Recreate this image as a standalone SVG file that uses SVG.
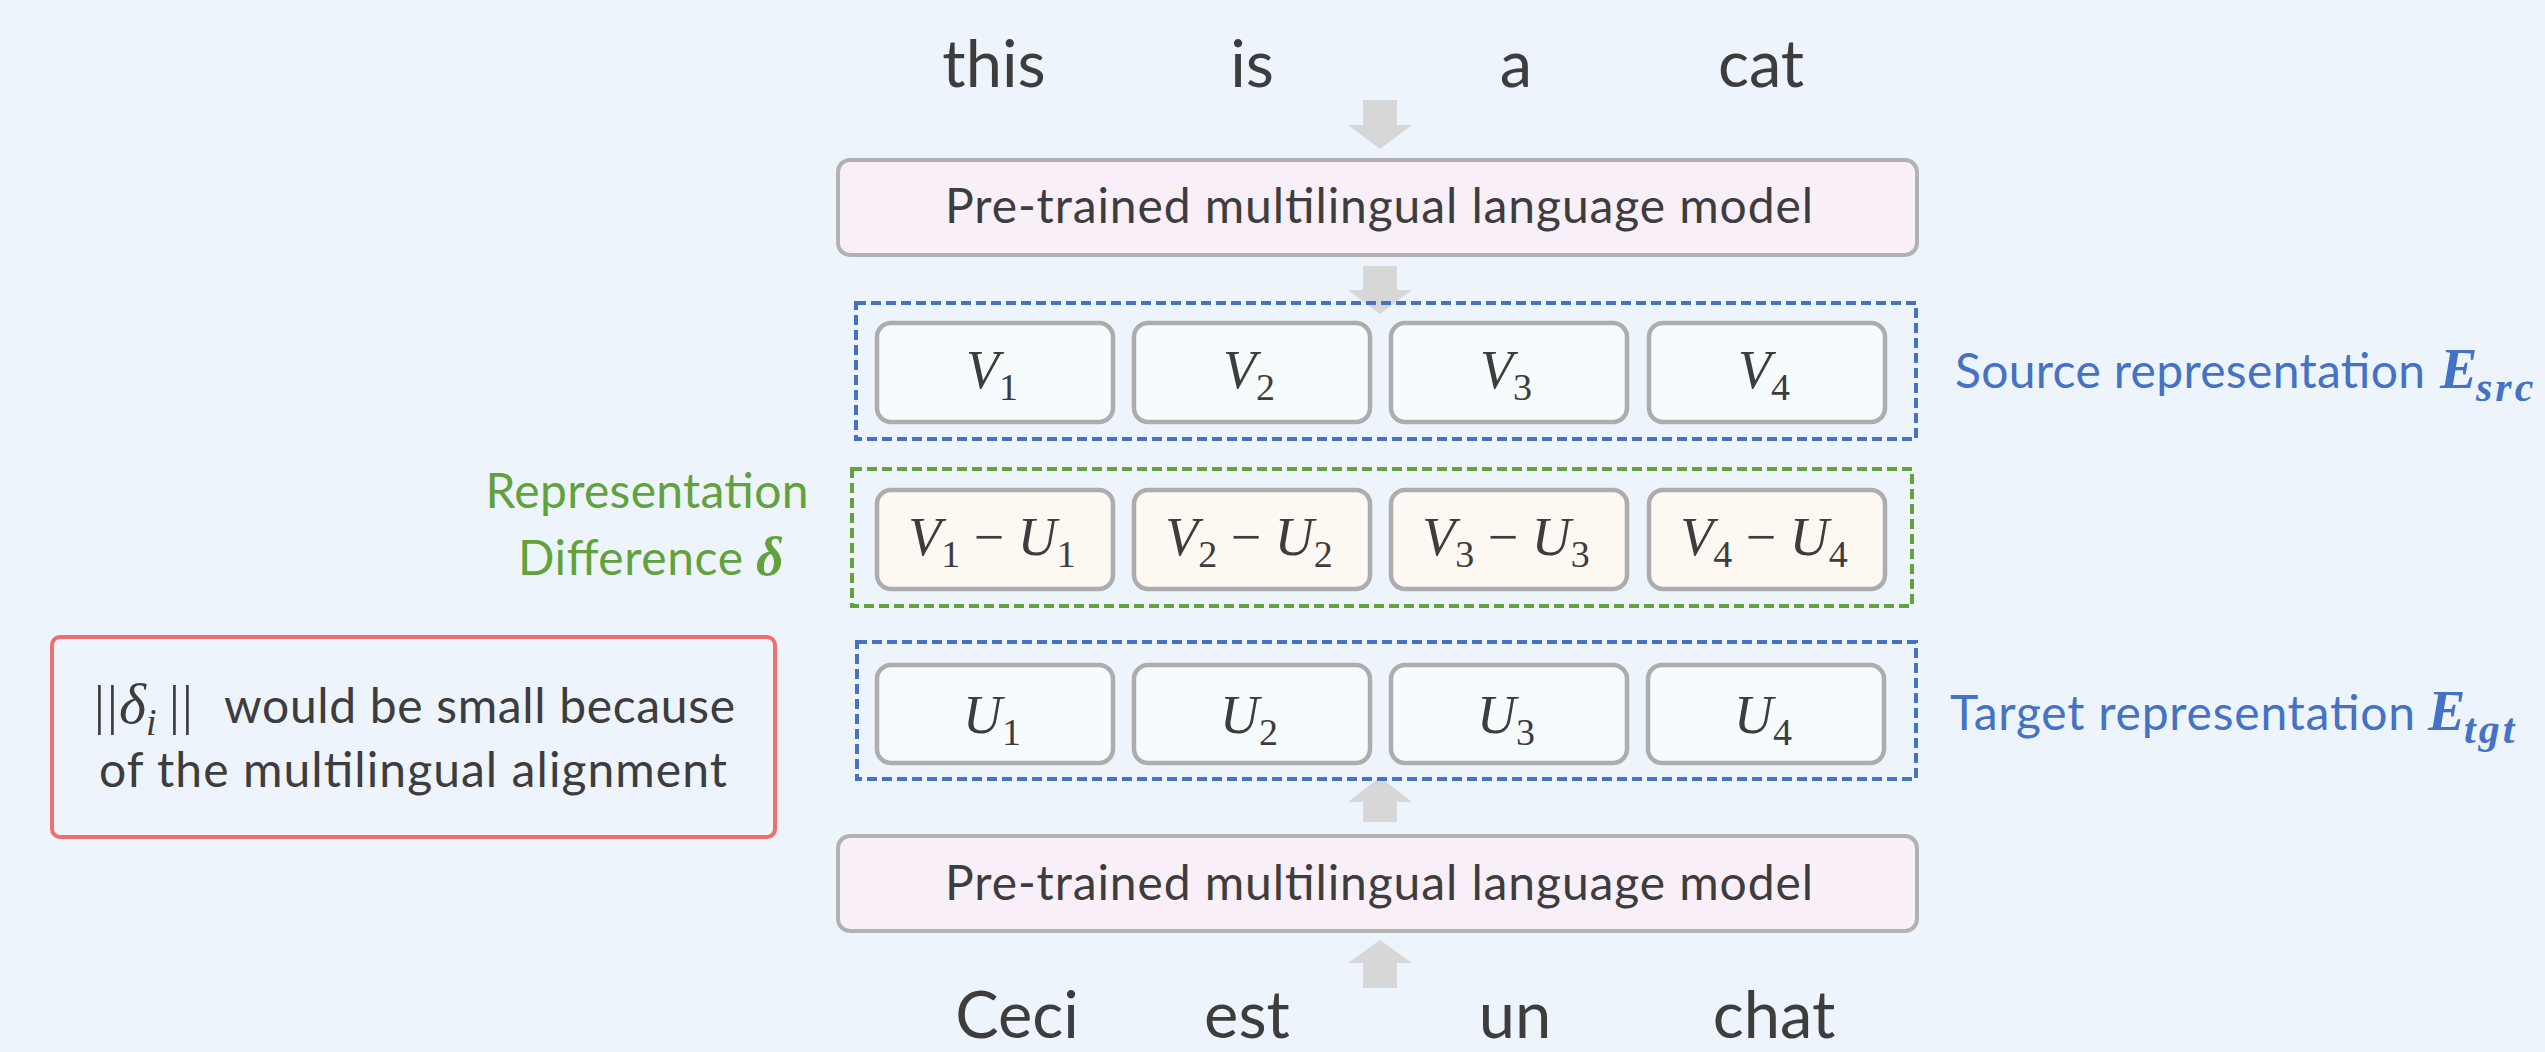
<svg xmlns="http://www.w3.org/2000/svg" width="2545" height="1052" viewBox="0 0 2545 1052">
  <style>
    .bg { fill: #eef4fc; }
    .word { font-family: Lato, "Liberation Sans", sans-serif; font-size: 65px; fill: #3d3d3d; text-anchor: middle; }
    .lbl { font-family: Lato, "Liberation Sans", sans-serif; font-size: 48px; fill: #3d3d3d; }
    .plm { fill: #f9eff9; stroke: #b2b2b2; stroke-width: 4; }
    .vec { fill: #f6fcfe; stroke: #adadad; stroke-width: 4.5; }
    .diff { fill: #fdf8f1; stroke: #adadad; stroke-width: 4.5; }
    .math { font-family: "Liberation Serif", "DejaVu Serif", serif; font-size: 54px; fill: #3d3d3d; text-anchor: middle; }
    .mathL { font-family: "Liberation Serif", "DejaVu Serif", serif; font-size: 54px; fill: #3d3d3d; }
    .it { font-style: italic; }
    .sub { font-size: 38px; }
    .blueBox { fill: none; stroke: #4472c4; stroke-width: 4; stroke-dasharray: 10 5; }
    .greenBox { fill: none; stroke: #62a33d; stroke-width: 4; stroke-dasharray: 10 5; }
    .blueTxt { fill: #4472c4; }
    .greenTxt { fill: #62a23d; }
    .note { fill: none; stroke: #ef6e6e; stroke-width: 4; }
    .arrow { fill: #d7d7d7; }
    .mathE { font-family: "Liberation Serif", "DejaVu Serif", serif; font-weight: bold; font-style: italic; }
  </style>

  <rect class="bg" x="0" y="0" width="2545" height="1052"/>

  <!-- block arrows between the stages -->
  <g id="connectors">
    <path class="arrow" d="M1363,100 h34 v25 h15 l-32,24 l-32,-24 h15 z"/>
    <path class="arrow" d="M1363,266 h34 v24 h15 l-32,24 l-32,-24 h15 z"/>
    <path class="arrow" d="M1380,777 l32,25 h-15 v20 h-34 v-20 h-15 z"/>
    <path class="arrow" d="M1380,940 l32,23 h-15 v25 h-34 v-25 h-15 z"/>
  </g>

  <!-- source sentence -->
  <g id="src-words">
    <text class="word" x="994" y="87">this</text>
    <text class="word" x="1252" y="87">is</text>
    <text class="word" x="1516" y="87">a</text>
    <text class="word" x="1761" y="87">cat</text>
  </g>

  <g id="plm-top">
    <rect class="plm" x="838" y="160" width="1079" height="95" rx="12"/>
    <text class="lbl" x="945" y="223" textLength="868">Pre-trained multilingual language model</text>
  </g>

  <!-- source token vectors -->
  <g id="src-repr">
    <rect class="blueBox" x="856" y="303" width="1060" height="136"/>
    <g id="v1"><rect class="vec" x="877" y="323" width="236" height="99" rx="14"/>
      <text class="math" x="992" y="388"><tspan class="it">V</tspan><tspan class="sub" dy="12">1</tspan></text></g>
    <g id="v2"><rect class="vec" x="1134" y="323" width="236" height="99" rx="14"/>
      <text class="math" x="1249" y="388"><tspan class="it">V</tspan><tspan class="sub" dy="12">2</tspan></text></g>
    <g id="v3"><rect class="vec" x="1391" y="323" width="236" height="99" rx="14"/>
      <text class="math" x="1506" y="388"><tspan class="it">V</tspan><tspan class="sub" dy="12">3</tspan></text></g>
    <g id="v4"><rect class="vec" x="1649" y="323" width="236" height="99" rx="14"/>
      <text class="math" x="1764" y="388"><tspan class="it">V</tspan><tspan class="sub" dy="12">4</tspan></text></g>
  </g>
  <g id="src-label">
    <text class="lbl blueTxt" x="1955" y="388" textLength="470">Source representation</text>
    <text class="mathE blueTxt" x="2440" y="388" font-size="56">E</text>
    <text class="mathE blueTxt" x="2476" y="401" font-size="42" letter-spacing="3">src</text>
  </g>

  <!-- per-token differences -->
  <g id="diff-repr">
    <rect class="greenBox" x="852" y="469" width="1060" height="137"/>
    <g id="d1"><rect class="diff" x="877" y="490" width="236" height="99" rx="14"/>
      <text class="math" x="992" y="555"><tspan class="it">V</tspan><tspan class="sub" dy="12">1</tspan><tspan dy="-12"> − </tspan><tspan class="it">U</tspan><tspan class="sub" dy="12">1</tspan></text></g>
    <g id="d2"><rect class="diff" x="1134" y="490" width="236" height="99" rx="14"/>
      <text class="math" x="1249" y="555"><tspan class="it">V</tspan><tspan class="sub" dy="12">2</tspan><tspan dy="-12"> − </tspan><tspan class="it">U</tspan><tspan class="sub" dy="12">2</tspan></text></g>
    <g id="d3"><rect class="diff" x="1391" y="490" width="236" height="99" rx="14"/>
      <text class="math" x="1506" y="555"><tspan class="it">V</tspan><tspan class="sub" dy="12">3</tspan><tspan dy="-12"> − </tspan><tspan class="it">U</tspan><tspan class="sub" dy="12">3</tspan></text></g>
    <g id="d4"><rect class="diff" x="1649" y="490" width="236" height="99" rx="14"/>
      <text class="math" x="1764" y="555"><tspan class="it">V</tspan><tspan class="sub" dy="12">4</tspan><tspan dy="-12"> − </tspan><tspan class="it">U</tspan><tspan class="sub" dy="12">4</tspan></text></g>
  </g>
  <g id="diff-label">
    <text class="lbl greenTxt" x="647" y="508" text-anchor="middle" textLength="323">Representation</text>
    <text class="lbl greenTxt" x="518" y="575" textLength="225">Difference</text>
    <text class="mathE greenTxt" x="756" y="575" font-size="54">δ</text>
  </g>

  <!-- target token vectors -->
  <g id="tgt-repr">
    <rect class="blueBox" x="857" y="642" width="1059" height="137"/>
    <g id="u1"><rect class="vec" x="877" y="665" width="236" height="98" rx="14"/>
      <text class="math" x="992" y="733"><tspan class="it">U</tspan><tspan class="sub" dy="12">1</tspan></text></g>
    <g id="u2"><rect class="vec" x="1134" y="665" width="236" height="98" rx="14"/>
      <text class="math" x="1249" y="733"><tspan class="it">U</tspan><tspan class="sub" dy="12">2</tspan></text></g>
    <g id="u3"><rect class="vec" x="1391" y="665" width="236" height="98" rx="14"/>
      <text class="math" x="1506" y="733"><tspan class="it">U</tspan><tspan class="sub" dy="12">3</tspan></text></g>
    <g id="u4"><rect class="vec" x="1648" y="665" width="236" height="98" rx="14"/>
      <text class="math" x="1763" y="733"><tspan class="it">U</tspan><tspan class="sub" dy="12">4</tspan></text></g>
  </g>
  <g id="tgt-label">
    <text class="lbl blueTxt" x="1950" y="730" textLength="465">Target representation</text>
    <text class="mathE blueTxt" x="2428" y="730" font-size="56">E</text>
    <text class="mathE blueTxt" x="2464" y="743" font-size="42" letter-spacing="3">tgt</text>
  </g>

  <g id="plm-bottom">
    <rect class="plm" x="838" y="836" width="1079" height="95" rx="12"/>
    <text class="lbl" x="945" y="900" textLength="868">Pre-trained multilingual language model</text>
  </g>

  <!-- target sentence -->
  <g id="tgt-words">
    <text class="word" x="1017" y="1038">Ceci</text>
    <text class="word" x="1247" y="1038">est</text>
    <text class="word" x="1515" y="1038">un</text>
    <text class="word" x="1774" y="1038">chat</text>
  </g>

  <!-- remark on the size of the differences -->
  <g id="note">
    <rect class="note" x="52" y="637" width="723" height="200" rx="8"/>
    <text class="mathL" y="723"><tspan x="94">|</tspan><tspan x="107">|</tspan><tspan x="119" class="it" font-size="58">δ</tspan><tspan class="it" font-size="38" dy="12">i</tspan><tspan x="169" dy="-12">|</tspan><tspan x="182">|</tspan></text>
    <text class="lbl" x="224" y="723" textLength="511">would be small because</text>
    <text class="lbl" x="99" y="787" textLength="628">of the multilingual alignment</text>
  </g>
</svg>
